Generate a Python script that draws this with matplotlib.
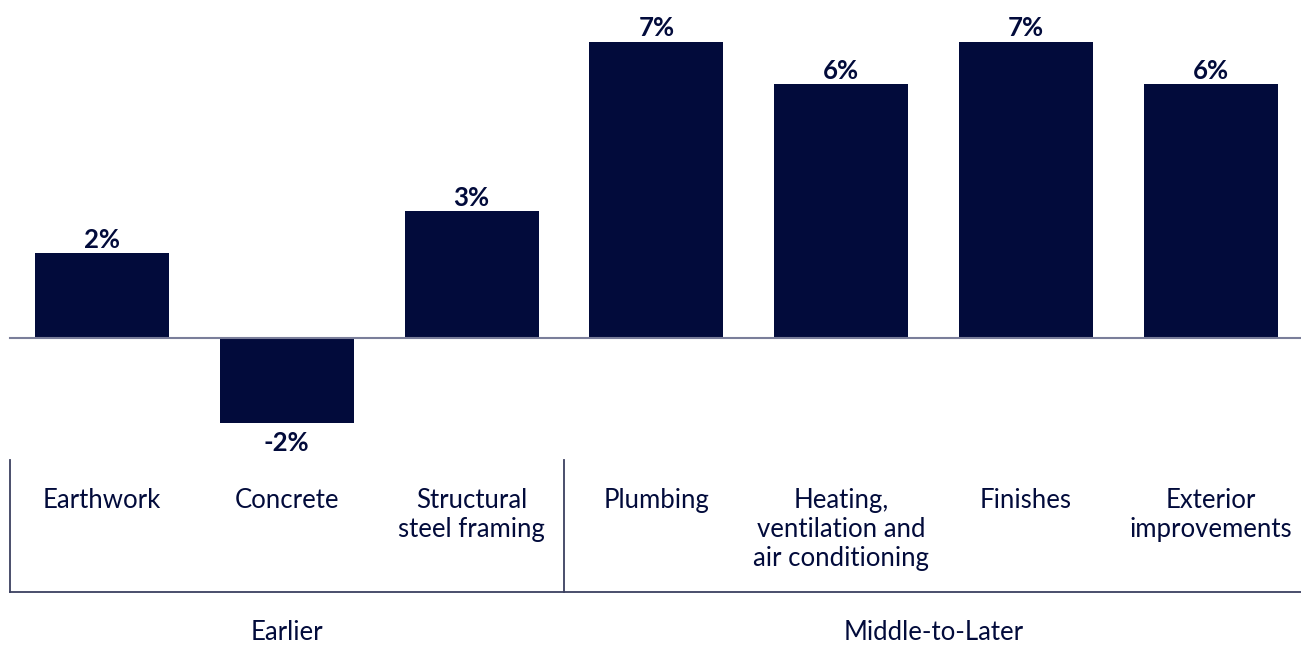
import matplotlib.pyplot as plt
import numpy as np

plt.rcParams['font.family'] = ['Lato', 'DejaVu Sans']

# data
categories = ['Earthwork', 'Concrete', 'Structural\nsteel framing', 'Plumbing',
              'Heating,\nventilation and\nair conditioning', 'Finishes',
              'Exterior\nimprovements']
values = [2, -2, 3, 7, 6, 7, 6]
groups = ['Earlier', 'Middle-to-Later']
group_spans = [(0, 2), (3, 6)]

navy = '#020b3b'
line_col = '#3b4060'

fig = plt.figure(figsize=(13.01, 6.46), dpi=100)
ax = fig.add_axes([0, 0, 1, 1])

x = np.arange(len(values))
ax.bar(x, values, width=0.725, color=navy, zorder=2)

# value labels
for xi, v in zip(x, values):
    if v >= 0:
        ax.annotate(f'{v}%', (xi, v), xytext=(0, 1), textcoords='offset points',
                    ha='center', va='bottom', fontsize=18.5, fontweight='bold', color=navy)
    else:
        ax.annotate(f'{v}%', (xi, v), xytext=(0, -6), textcoords='offset points',
                    ha='center', va='top', fontsize=18.5, fontweight='bold', color=navy)

left = -0.498
right = 6.6
ax.plot([left, right], [0, 0], color='#7a7e9a', lw=1.5, zorder=3)

# category labels
for xi, c in zip(x, categories):
    ax.text(xi, -3.55, c, ha='center', va='top', fontsize=18.5, color=navy,
            linespacing=1.2)

# group brackets
top_y, bot_y = -2.884, -6.0
ax.plot([left, right], [bot_y, bot_y], color=line_col, lw=1.3)
for a, b in group_spans:
    ax.plot([a - 0.498, a - 0.498], [top_y, bot_y], color=line_col, lw=1.3)
for g, (a, b) in zip(groups, group_spans):
    ax.text((a + b) / 2, -6.95, g, ha='center', va='center', fontsize=18.5, color=navy)

ax.set_xlim(-0.552, 6.488)
ax.set_ylim(-7.28, 7.99)
ax.axis('off')

fig.savefig('out.png', dpi=100)
